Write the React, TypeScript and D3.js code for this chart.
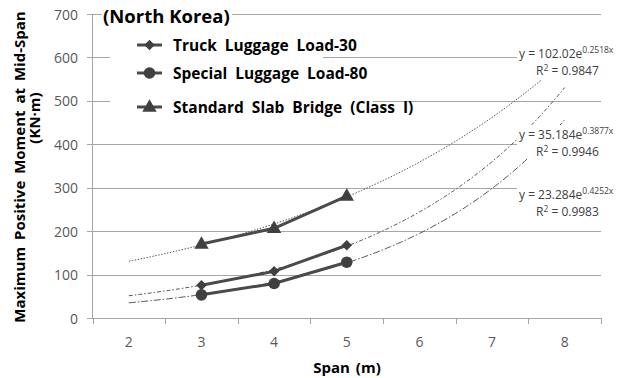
import React from "react";
import * as d3 from "d3";

const spans = [2, 3, 4, 5, 6, 7, 8];
const dataSpans = [3, 4, 5];
const truckValues = [76, 108, 168];
const specialValues = [54, 80, 129];
const standardValues = [171, 207, 281];
const yTicks = [0, 100, 200, 300, 400, 500, 600, 700];
const seriesNames = ["Truck Luggage Load-30", "Special Luggage Load-80", "Standard Slab Bridge (Class I)"];
// trend equations y = a * e^(b x), x = category index (span 2 -> 1)
const trendA = [35.184, 23.284, 102.02];
const trendB = [0.3877, 0.4252, 0.2518];
const trendCoefText = ["35.184", "23.284", "102.02"];
const trendExpText = ["0.3877x", "0.4252x", "0.2518x"];
const trendR2 = ["0.9946", "0.9983", "0.9847"];

const W = 633, H = 378;
const FONT = "'Open Sans', 'Noto Sans', sans-serif";
const DARK = "#404040";
const GRID = "#a6a6a6";

export default function App() {
  const x = d3.scaleLinear().domain([1.5, 8.5]).range([92.5, 601]);
  const y = d3.scaleLinear().domain([0, 700]).range([318.3, 14]);
  const boundaries = d3.range(1.5, 9, 1);

  const series = [truckValues, specialValues, standardValues];
  const markerKinds = ["diamond", "circle", "triangle"];
  const dashes = ["4,2,1.5,2", "7,2,1.5,2", "1.5,1.5"];

  const line = d3.line<[number, number]>().x(d => x(d[0])).y(d => y(d[1]));

  const trendPath = (i: number) => {
    const pts: [number, number][] = d3.range(2, 8.001, 0.05).map(s => [s, trendA[i] * Math.exp(trendB[i] * (s - 1))]);
    return line(pts) as string;
  };

  const marker = (kind: string, cx: number, cy: number, key: string) => {
    if (kind === "circle") return <circle key={key} cx={cx} cy={cy} r={5.8} fill={DARK} />;
    if (kind === "diamond") {
      const s = d3.symbol().type(d3.symbolDiamond2).size(70)();
      return <path key={key} d={s as string} transform={`translate(${cx},${cy})`} fill={DARK} />;
    }
    const t = d3.symbol().type(d3.symbolTriangle).size(90)();
    return <path key={key} d={t as string} transform={`translate(${cx},${cy + 0.5})`} fill={DARK} />;
  };

  const legendY = [45, 73, 107];
  const labelBoxes = [
    { x: 517, y: 125, h: 34, ty: 134, ry: 151 },
    { x: 517, y: 185, h: 36, ty: 194, ry: 211 },
    { x: 517, y: 45, h: 35, ty: 53, ry: 70 },
  ];

  return (
    <div style={{ position: "absolute", left: 0, top: 0 }}>
      <svg width={W} height={H} style={{ display: "block", background: "#fff" }} fontFamily={FONT}>
        {/* gridlines */}
        {yTicks.map(t => (
          <line key={"g" + t} x1={87} x2={601} y1={Math.round(y(t)) + 0.5} y2={Math.round(y(t)) + 0.5} stroke={GRID} strokeWidth={1} />
        ))}
        {/* y axis */}
        <line x1={92.5} x2={92.5} y1={y(700)} y2={y(0)} stroke={GRID} />
        {/* x ticks */}
        {boundaries.map(b => (
          <line key={"xt" + b} x1={Math.round(x(b)) + 0.5} x2={Math.round(x(b)) + 0.5} y1={318} y2={324} stroke={GRID} />
        ))}
        {/* trend lines */}
        {[0, 1, 2].map(i => (
          <path key={"tr" + i} d={trendPath(i)} fill="none" stroke="#555" strokeWidth={1} strokeDasharray={dashes[i]} />
        ))}
        {/* white boxes */}
        <rect x={102} y={5} width={130} height={18} fill="#fff" />
        <rect x={110} y={26} width={213} height={66} fill="#fff" />
        <rect x={110} y={92} width={263} height={28} fill="#fff" />
        {labelBoxes.map((b, i) => (
          <rect key={"lb" + i} x={b.x} y={b.y} width={116} height={b.h} fill="#fff" />
        ))}
        {/* trend labels */}
        {labelBoxes.map((b, i) => (
          <g key={"lt" + i} fill={DARK}>
            <text x={519} y={b.ty} dominantBaseline="central" fontSize={12}>
              {"y = " + trendCoefText[i] + "e"}
              <tspan fontSize={8.5} dy={-4}>{trendExpText[i]}</tspan>
            </text>
            <text x={536} y={b.ry} dominantBaseline="central" fontSize={12}>
              {"R"}
              <tspan fontSize={8.5} dy={-3}>2</tspan>
              <tspan dy={3}>{" = " + trendR2[i]}</tspan>
            </text>
          </g>
        ))}
        {/* series */}
        {series.map((vals, i) => {
          const pts: [number, number][] = dataSpans.map((s, j) => [s, vals[j]]);
          return (
            <g key={"s" + i}>
              <path d={line(pts) as string} fill="none" stroke="#4a4a4a" strokeWidth={3} />
              {pts.map((p, j) => marker(markerKinds[i], x(p[0]), y(p[1]), "m" + i + j))}
            </g>
          );
        })}
        {/* y tick labels */}
        {yTicks.map(t => (
          <text key={"yl" + t} x={78} y={y(t)} textAnchor="end" dominantBaseline="central" fontSize={14} fill="#595959">{t}</text>
        ))}
        {/* x tick labels */}
        {spans.map(s => (
          <text key={"xl" + s} x={x(s)} y={341} textAnchor="middle" dominantBaseline="central" fontSize={14} fill="#595959">{s}</text>
        ))}
        {/* axis titles */}
        <text x={347} y={367} textAnchor="middle" dominantBaseline="central" fontSize={15} fontWeight="bold" fill="#000" wordSpacing={2}>Span (m)</text>
        <text transform="translate(19,167) rotate(-90)" textAnchor="middle" dominantBaseline="central" fontSize={15} fontWeight="bold" fill="#000" wordSpacing={3}>Maximum Positive Moment at Mid-Span</text>
        <text transform="translate(34,118) rotate(-90)" textAnchor="middle" dominantBaseline="central" fontSize={15} fontWeight="bold" fill="#000">(KN·m)</text>
        {/* legend */}
        <text x={103} y={15} dominantBaseline="central" fontSize={18.5} fontWeight="bold" fill="#000">(North Korea)</text>
        {seriesNames.map((n, i) => (
          <g key={"lg" + i}>
            <line x1={137} x2={162} y1={legendY[i]} y2={legendY[i]} stroke="#4a4a4a" strokeWidth={3} />
            {marker(markerKinds[i], 149.5, legendY[i], "lm" + i)}
            <text x={173} y={legendY[i]} dominantBaseline="central" fontSize={15.5} fontWeight="bold" fill="#000" wordSpacing={4}>{n}</text>
          </g>
        ))}
      </svg>
    </div>
  );
}
